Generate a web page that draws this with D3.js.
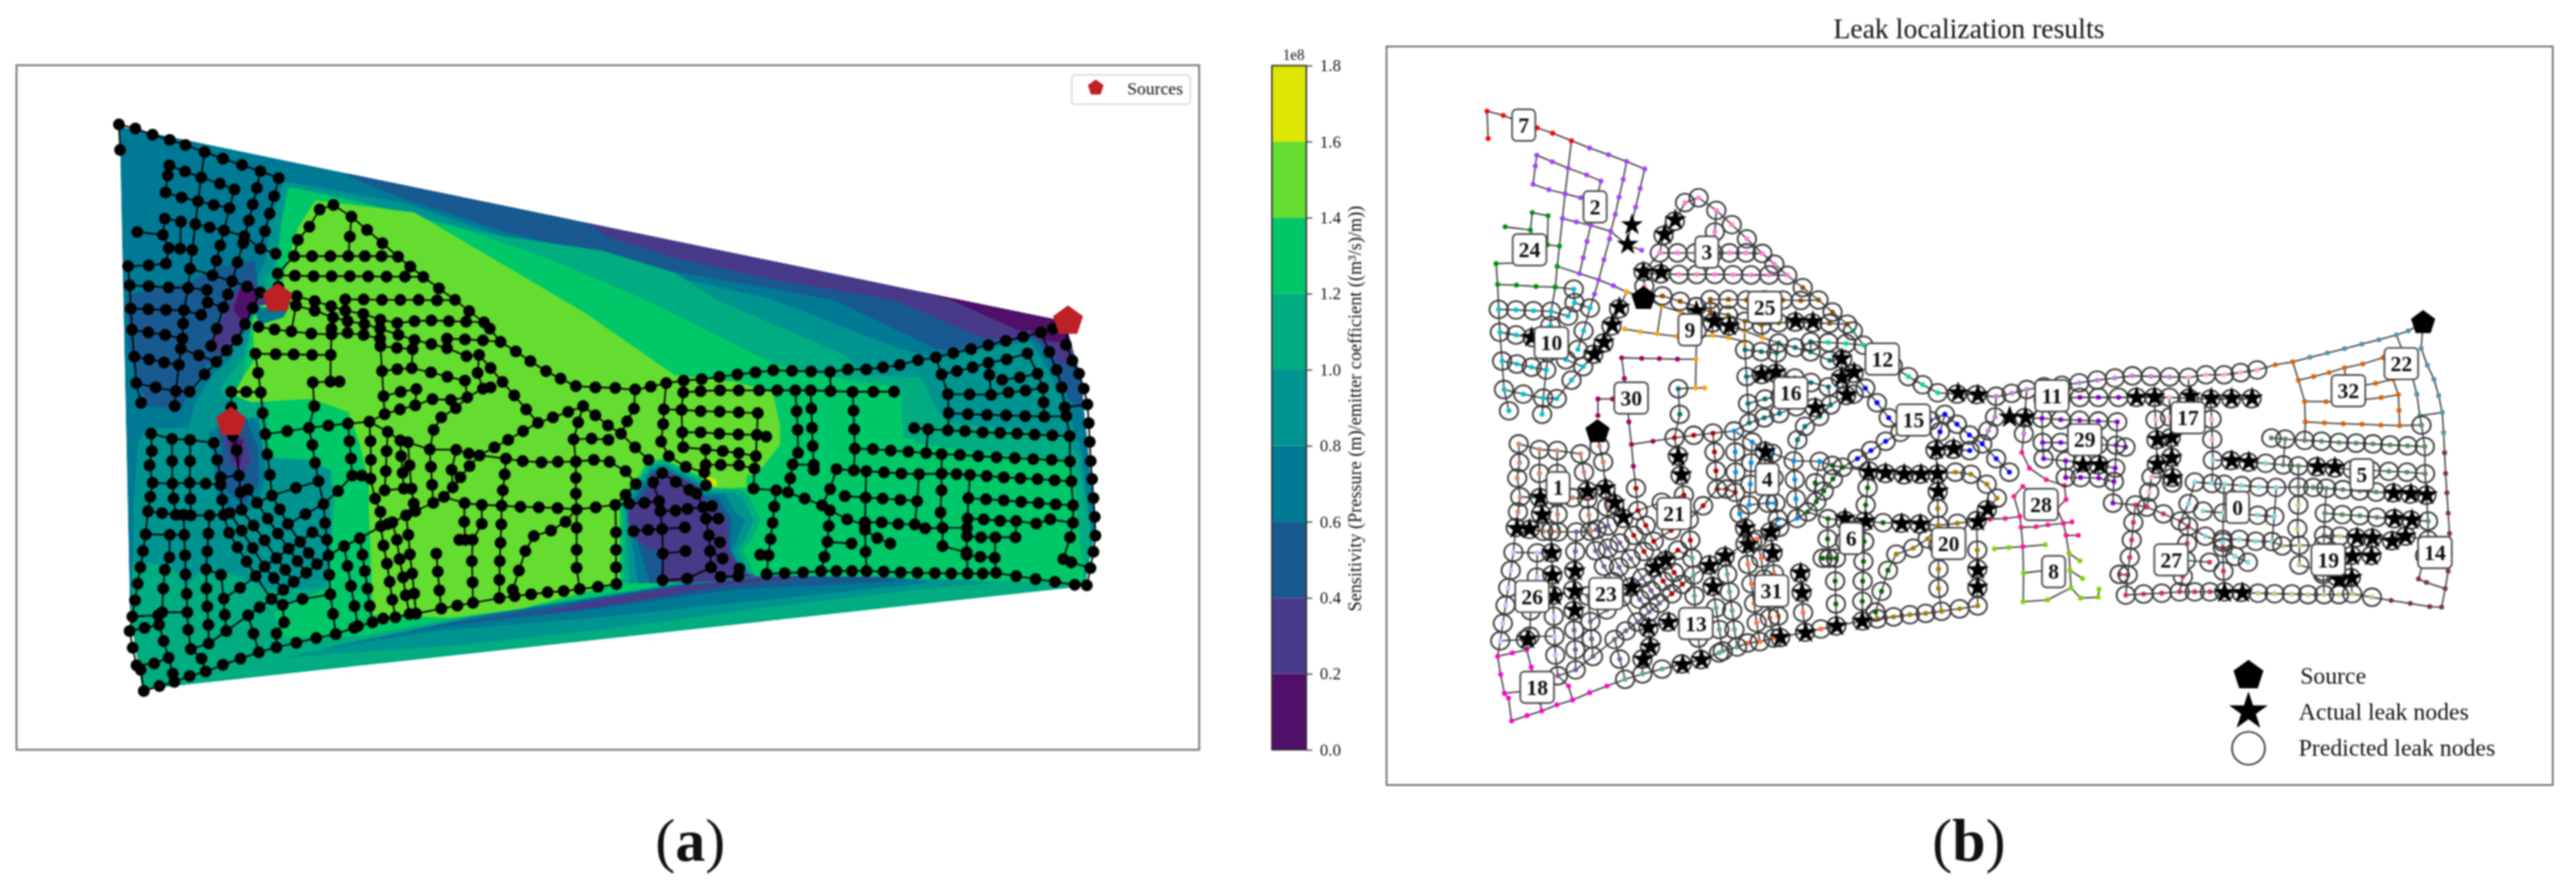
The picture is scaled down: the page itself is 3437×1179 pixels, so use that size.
<!DOCTYPE html>
<meta charset='utf-8'>
<html>
<head>
<style>
  body { margin: 0; background: #fff; }
  svg { display: block; filter: blur(0.8px); }
  text { font-family: 'Liberation Serif', serif; fill: #111; }
</style>
</head>
<body>
<script src='https://d3js.org/d3.v7.min.js'></script>
<script>

// colour bar
var binEdges = [0, 0.2, 0.4, 0.6, 0.8, 1.0, 1.2, 1.4, 1.6, 1.8];
var binColors = ['#500f68', '#483a88', '#185a90', '#007a94', '#009490', '#00ac80', '#00c768', '#64dc30', '#dce600'];

// node colour of every district in panel b
var districtColors = ['#80d8dc', '#c98a70', '#a040ff', '#ff80d0', '#0090f0', '#5a8a5a', '#006400', '#ff0000', '#80d000', '#ffa500',
  '#00c0d8', '#c080d8', '#00e090', '#60a880', '#803040', '#0000ff', '#007070', '#ffb0b0', '#ff00d0', '#c0c880',
  '#a08000', '#b00000', '#5090a8', '#7a5a90', '#009000', '#8a5000', '#c8c0ff', '#d03050', '#ff1493', '#8000d0',
  '#a00060', '#ff7040', '#e06000'];
var notPredicted = [7, 2, 24, 9, 30, 28, 8, 18, 22, 32, 14];

var pipesNW = [
  [7,115,108,158,124,203,149,248,170,289,190,339,218],
  [7,115,108,118,210],
  [2,339,218,387,245,437,270,485,295,533,323],
  [2,339,218,330,320,322,415,315,507],
  [24,315,507,307,610,301,685],
  [2,247,272,288,296,330,320,379,345,417,368,404,443],
  [2,247,272,243,312,237,380,279,400,322,415,363,430,404,443,390,532,380,592,370,653,360,712],
  [2,485,295,476,362,465,428,455,492,443,555,440,583,425,660,411,735,400,788],
  [2,533,323,521,395,509,465,497,535,485,605],
  [2,315,507,352,520,390,532,443,555,485,605,525,625],
  [24,163,538,230,550,235,485,277,497,275,605,307,610],
  [24,230,550,245,603,275,605],
  [24,245,603,238,665,193,672,139,675,143,752,193,755,245,760,296,762],
  [2,301,685,360,712,411,735,450,757],
  [9,450,757,485,780,532,800],
  [10,301,685,296,762,285,852,283,905,281,965,277,1005,272,1070,264,1175,261,1235],
  [10,143,752,146,845,149,930,155,1037,160,1143,173,1222],
  [10,146,845,192,847,238,850,285,852,330,870,347,820,345,770,296,762],
  [10,149,930,192,940,236,950,281,965],
  [10,155,1037,194,1048,233,1060,272,1070],
  [10,160,1143,211,1160,264,1175,300,1177,339,1108,370,1058,397,1012,424,970,445,907,465,843,485,780],
  [10,277,1005,324,1032,370,1058],
  [10,347,820,388,840,400,788],
  [10,388,840,371,925,356,994],
  [3,583,570,613,517,640,448,676,430,723,477,764,530,804,583,845,637,877,677,911,718],
  [3,723,477,719,557,715,635],
  [3,583,570,573,635,530,705],
  [3,573,635,620,635,668,635,715,635,758,635,802,635,845,637],
  [3,530,712,575,713,624,715,671,715,719,715,767,716,815,717,863,717,911,718],
  [3,530,712,532,758],
  [25,911,718,952,764,994,810,1031,855,1070,900],
  [25,707,808,755,808,803,810,851,810,899,810,947,812,994,810],
  [25,707,808,707,853],
  [9,578,833,627,853,675,880],
  [9,798,925,846,950],
  [25,532,800,580,795,627,815,670,835,707,853,754,866,799,889,843,903,888,895,932,892,978,895,1023,897,1070,900],
  [25,670,835,675,880,713,895,757,907,798,925],
  [25,707,853,713,895],
  [25,754,866,757,907],
  [25,799,889,798,925],
  [25,843,903,846,950],
  [9,480,918,522,928,566,936,618,945,671,948,713,942,755,950,798,965],
  [9,532,800,578,833,566,936],
  [25,675,880,671,925,671,948],
  [25,713,895,713,942],
  [25,757,907,755,950],
  [25,798,925,798,965],
  [9,671,948,669,1030,668,1137,692,1137],
  [21,612,1322,663,1313,714,1305],
  [4,714,1305,770,1297],
  [30,472,1025,525,1027,572,1028,620,1030,669,1030],
  [30,472,1025,479,1102,486,1180,491,1263,498,1347,555,1335,612,1322],
  [30,409,1178,448,1178,486,1180],
  [30,409,1178,409,1240],
  [16,798,965,799,995,803,1095,807,1195,810,1267,770,1297],
  [16,799,995,842,1002,883,1007,888,970,846,950],
  [16,888,970,932,987,973,1003,1024,1035,1057,1030],
  [16,803,1095,843,1087,881,1083,931,1100,974,1117,1020,1133,1026,1200],
  [16,1057,1030,1053,1102,1067,1165,1026,1200],
  [16,1067,1165,1087,1160],
  [16,883,1007,881,1083],
  [16,973,1003,973,965],
  [12,973,965,1020,968,1067,972,1113,978],
  [12,1070,900,1085,925,1113,978,1153,1016,1191,1055,1232,1095,1270,1125,1310,1155,1361,1160,1413,1162],
  [15,1057,1030,1087,1083,1118,1138,1149,1192,1180,1248,1211,1302,1172,1335,1133,1370,1097,1400],
  [15,1211,1302,1250,1280,1290,1258,1329,1235,1361,1272,1394,1312,1428,1345,1465,1400,1500,1450],
  [15,1329,1235,1316,1300,1304,1368,1351,1365,1395,1370],
  [11,1428,1345,1444,1296,1462,1245,1465,1168],
  [16,1026,1200,983,1210,935,1207,890,1232,850,1248,810,1267],
  [16,807,1195,852,1178,893,1167,890,1232],
  [16,1026,1200,996,1243,958,1280,938,1330],
  [16,622,1140,668,1137],
  [16,622,1140,626,1235,612,1322]
];

var pipesSW = [
  [13,481,1110,527,1090,579,1072,631,1053,682,1037,730,1012,740,1005,778,990],
  [31,778,990,806,975,838,970,875,957,892,955,958,935,1000,923,1041,912],
  [6,1041,912,1110,893],
  [20,1110,893,1150,885,1193,878,1236,870,1278,865,1320,857,1368,848,1416,837],
  [13,659,660,663,723,665,800,668,878,675,957,682,1037],
  [13,704,685,713,765,722,845,731,925,740,1005],
  [13,745,654,752,720,758,785,765,855,771,925,778,990],
  [13,663,723,704,685,745,654,800,606],
  [13,595,897,668,878],
  [4,938,220,928,298],
  [1,199,235,254,256,301,260,363,272],
  [1,199,235,201,305,195,362,203,432,197,488,191,546],
  [1,254,256,254,345,255,435,258,495,264,560],
  [1,301,260,301,345,300,432,302,497,303,562],
  [1,363,272,372,340,381,410,385,500,389,560],
  [1,203,432,255,435,300,432,342,435,381,440],
  [1,381,410,429,403],
  [1,408,190,413,243,423,302,429,403,433,470,452,458,476,512],
  [1,191,546,228,553,264,560,284,560,303,562],
  [23,303,562,352,562,389,560,405,553,436,540],
  [23,352,562,349,635,346,706,343,778,344,855,346,927,349,1000,350,1075,303,1097],
  [23,343,778,382,800,389,895,392,960,396,1025,350,1075],
  [21,476,512,504,575,531,635,559,695,582,745,605,792],
  [21,515,483,536,538,557,597,589,668,611,713,633,757],
  [23,436,540,467,603,496,662,527,733,550,780,572,828],
  [23,405,553,436,623,465,693,496,767,520,813,545,860],
  [23,389,560,403,632,425,690,449,747,473,805],
  [23,433,470,436,540],
  [23,473,805,496,767,527,733],
  [21,527,733,559,695,589,668,621,630,659,660],
  [21,663,723,633,757,605,792],
  [23,605,792,572,828,545,860,514,897,483,930,453,962,396,1025],
  [23,473,805,432,852,389,895],
  [23,473,805,514,897,543,920,595,897],
  [23,543,920,547,990,527,1035,527,1090],
  [23,453,962,467,1035,481,1110],
  [30,498,237,503,318],
  [21,503,318,510,400,515,483,476,512],
  [21,515,483,578,452,637,425,628,352,621,280,612,212],
  [21,714,195,718,265,722,335,725,403,688,465,650,517],
  [21,725,403,750,403,773,415],
  [21,637,425,650,517,654,593,659,660],
  [21,557,597,603,557,650,517],
  [26,191,546,185,638,178,705,171,770,164,835,157,902,150,967],
  [26,185,638,248,640,286,640],
  [26,248,640,247,730,235,780,231,855,228,950],
  [26,284,560,286,640,288,722,289,798,292,876,294,950,296,1020,303,1097],
  [26,150,967,218,962,228,950,294,950],
  [18,143,1025,182,1012,220,1000,218,962],
  [18,150,967,143,1025,151,1092,161,1162,172,1180,180,1265],
  [18,220,1000,232,1065,245,1132,256,1195,260,1228],
  [18,161,1162,207,1155,245,1132],
  [18,180,1265,221,1245,260,1228,300,1205,342,1187,387,1160,433,1135,481,1110],
  [18,342,1187,331,1135,303,1097],
  [4,770,187,773,265,774,340,773,415,785,495,799,548,800,606],
  [4,770,187,818,228,815,305,813,385,810,462,860,455,880,455],
  [4,818,228,851,262,853,325,857,392,860,455],
  [4,851,262,871,270,875,362,880,455,886,515,866,562],
  [4,871,270,927,298,931,368,934,440,937,512,890,545,866,562],
  [4,927,298,997,300],
  [6,997,300,1030,315,1058,322,1127,335],
  [6,937,512,965,488,988,450,1008,410,1032,365,1058,322,1097,290],
  [6,997,300,985,380,988,450],
  [6,965,488,1019,513,1064,520,1116,523,1165,528,1213,530,1262,533],
  [20,1262,533,1312,538,1362,530,1413,520],
  [6,1019,513,1018,588,1021,660],
  [6,1064,520,1064,596,1040,660,1038,745,1040,830,1041,912],
  [6,1005,660,1021,660,1040,660],
  [6,1127,335,1124,398,1119,462,1116,523,1115,598,1113,672,1111,745,1110,820,1110,893],
  [6,1127,335,1171,345,1220,350,1263,348,1310,347],
  [20,1310,347,1310,412,1310,475,1312,538,1312,612,1312,700,1312,772,1320,857],
  [20,1312,538,1283,588,1245,623,1200,645],
  [6,1200,645,1178,705,1161,783,1145,860,1150,885],
  [15,1304,258,1310,347],
  [20,1310,347,1357,340,1398,348,1440,385,1467,437,1440,480,1413,520,1415,630,1415,700,1415,770,1416,837],
  [31,800,606,807,683,816,755,823,828,830,900,838,970],
  [31,800,606,818,597,830,590,866,562],
  [31,830,590,842,660,849,737,858,810,865,882,875,957],
  [31,866,562,872,640,876,718,882,795,887,875,892,955],
  [31,945,715,949,787,953,862,958,935]
];

var pipesE = [
  [11,47,353,106,360,153,347,199,333,251,323,305,317,358,308,412,298,466,290,519,282,575,284,632,286],
  [17,632,286,689,288,742,278,797,278,847,270,897,260],
  [32,897,260,952,241,1005,230],
  [22,1005,230,1057,213,1110,197,1162,181,1214,164,1266,148,1319,130,1355,115,1400,85],
  [11,251,323,250,370],
  [29,250,370,302,365,360,362,416,362,477,362],
  [17,477,362,531,362,585,362,631,362,690,365,756,368,818,367,880,367],
  [17,689,288,690,365],
  [29,250,370,245,440,247,530,250,590],
  [11,199,333,192,438,190,497],
  [28,190,497,184,567,207,625,258,668,313,690,318,742],
  [29,192,438,245,440,302,445,359,447,416,450,473,453],
  [28,47,820,88,815,134,812,178,805,182,845,187,917],
  [28,187,693,160,730,178,805],
  [28,182,845,227,843,263,836,310,830,336,825],
  [28,187,693,228,728,268,760,290,775,310,830,318,875,355,875],
  [28,318,742,290,775],
  [8,101,925,145,920,187,917,255,910],
  [8,187,917,189,1015,188,1122,262,1115,333,1070],
  [8,189,1015,257,1005],
  [8,318,875,327,942,330,1005,333,1070,362,1108,415,1105,418,1075],
  [8,327,942,360,970],
  [8,330,1005,368,1035],
  [29,473,453,470,540,467,625,463,675,460,755],
  [29,247,530,302,530,358,535,415,538,470,540,498,547],
  [29,250,590,317,598,368,605,416,613,467,625],
  [29,317,598,317,660,362,660,417,662,463,675],
  [29,416,613,417,662],
  [27,460,755,528,762,563,770,613,795,665,822,688,842],
  [0,688,842,740,878,793,900],
  [27,528,762,522,827,517,892,511,957,505,1022,499,1097],
  [27,480,1020,505,1022],
  [17,585,362,589,445,592,520,593,612,577,658,570,714,563,770],
  [17,631,362,633,435,635,512,637,585,640,660,640,680],
  [17,577,658,640,660],
  [0,763,595,817,597,870,603,923,607],
  [5,923,607,976,613,1022,617,1077,620,1132,625,1186,630,1241,633,1296,637,1351,640,1406,646],
  [17,756,368,759,443,761,518,763,595],
  [0,708,677,760,682,797,685,850,690,902,695,955,697],
  [5,955,697,1022,695,1067,697,1107,700,1157,705,1208,710,1258,714,1309,717,1360,722,1410,726],
  [0,763,595,760,682],
  [0,708,677,689,757,665,822],
  [0,797,685,795,791,793,890],
  [0,733,785,795,791,846,795,899,800,949,805,955,697],
  [0,793,890,843,890,893,897,942,898,949,805],
  [19,942,898,973,914,1025,912,1098,912],
  [27,793,890,793,920,795,1008,798,1085],
  [0,793,920,830,953,869,975],
  [5,1022,617,1022,695],
  [19,1022,695,1022,762,1019,850,1025,912,1025,985,1097,1010],
  [5,1107,700,1102,793,1100,875],
  [19,1100,875,1098,945,1097,1010,1100,1095],
  [5,1102,793,1155,798,1208,802,1260,808,1312,813,1363,818,1415,822],
  [5,1395,465,1405,545,1406,646,1410,726,1415,822,1415,892,1406,950],
  [14,1406,950,1386,1037,1410,1050,1467,1073],
  [19,1100,875,1148,878,1197,884,1245,885,1305,895,1347,878,1415,892],
  [19,1245,885,1243,950,1183,950,1140,950,1098,945],
  [19,1183,950,1181,1032,1185,1092],
  [19,1097,1020,1138,1028,1181,1032],
  [27,688,842,685,905,681,968,672,1028,662,1085],
  [27,681,968,753,975],
  [27,499,1097,553,1093,608,1090,662,1085,708,1085,754,1085,798,1085,849,1087],
  [19,849,1087,900,1090,950,1092,1002,1093,1051,1095,1102,1095,1145,1095,1185,1092,1245,1105],
  [14,1245,1105,1303,1117,1361,1128,1420,1140,1456,1142],
  [22,1400,85,1394,180,1413,243,1433,295,1447,355,1458,418,1462,493],
  [14,1462,493,1465,568,1468,645,1472,717,1476,793,1480,868,1482,943,1476,1008,1467,1073,1456,1142],
  [22,1319,130,1344,208,1366,280,1381,350,1390,430,1458,418],
  [5,1390,430,1395,465],
  [5,940,513,982,517,1041,522,1092,525,1145,530,1197,532,1248,535,1300,539,1353,542,1405,545],
  [5,982,517,976,613],
  [32,1005,230,1022,298,1041,377,1043,453],
  [5,1043,453,1041,522],
  [32,1022,298,1068,285,1115,270,1162,252,1217,238,1279,214,1309,295,1325,352,1327,410,1329,467],
  [32,1041,377,1106,378,1170,380,1222,370,1273,363,1325,352],
  [32,1043,453,1101,457,1158,460,1215,462,1272,465,1329,467,1395,465],
  [32,1162,252,1165,300,1170,380],
  [32,1203,320,1256,310,1309,295]
];

// water sources: [crop, x, y]
var sources = [['e', 1400, 85], ['nw', 530, 805], ['sw', 408, 190]];

var leaksTop = [580,600, 568,678, 701,580, 671,638, 612,788, 662,790, 545,930, 525,1000, 502,1070, 475,1117, 300,1050,
  760,945, 810,985, 852,1005, 1037,985, 1085,987, 1165,1135, 1200,1190, 1165,1210, 1180,1280, 942,1197, 982,1190, 1092,1332, 1490,1272, 1545,1280];
var leaksSouth = [848,187, 605,208, 614,280, 352,345, 402,333, 428,392, 452,450, 220,370, 225,440, 155,495, 190,497, 252,592, 254,682, 260,765,
  317,665, 316,745, 316,822, 475,730, 570,620, 540,650, 692,643, 736,605, 702,728, 792,493, 800,560, 863,508, 868,592, 946,672, 950,752,
  578,870, 522,890, 527,968, 507,1018, 617,1040, 670,1020, 890,930, 960,912, 1047,885, 1118,865, 185,938, 1325,180, 1373,175, 1136,267, 1183,272,
  1235,277, 1282,277, 1328,275, 1330,345, 1070,455, 1128,465, 1228,475, 1280,477, 1440,467, 1468,417, 1440,660, 1440,730, 1530,50];
var leaksEast = [65,470, 110,470, 420,390, 470,388, 570,385, 628,393, 685,393, 742,393, 478,558, 518,550, 518,632, 478,657, 520,712,
  270,660, 317,660, 685,643, 733,648, 925,668, 973,670, 1137,773, 1185,775, 1230,780, 1140,875, 1188,880, 1035,950, 1078,953, 1133,965, 1170,945,
  1022,1025, 1075,1025, 1020,1112, 985,1120, 665,1172, 715,1172];

// district labels: [name, x, y]
var districtLabels = [['7',315,222],['2',400,367],['24',322,443],['3',533,447],['25',602,545],['9',513,585],['10',348,608],['12',742,637],
  ['30',443,706],['16',633,697],['15',779,745],['11',944,702],['17',1106,741],['22',1360,645],['32',1297,693],['29',983,780],['4',605,850],
  ['1',356,865],['21',494,911],['5',1313,842],['0',1165,900],['28',931,895],['6',705,955],['20',821,964],['27',1086,993],['14',1400,980],
  ['19',1273,993],['8',946,1014],['23',413,1053],['26',325,1058],['31',610,1048],['13',520,1106],['18',331,1219]];

// outline of the filled sensitivity map
var hull = [147,170,1310,578,1330,690,1348,1000,1345,1040,1335,1130,1322,1134,190,1345,175,1345,160,1190,148,230];

// filled contour bands, in painting order: [crop, bin, x, y, ...]
var bands = [
  ['all',2,400,200,431,277,497,322,624,392,800,465,1026,533,1153,637,1280,640,1400,620,1400,400],
  ['all',1,700,350,750,403,830,445,950,490,1100,533,1207,611,1260,620,1400,620,1400,400],
  ['all',0,980,440,1060,480,1170,533,1252,596,1300,600,1400,600,1400,400],
  ['e',3,990,215,1300,150,1385,300,1440,440,1475,600,1490,900,1480,1130,1400,1130,1400,500],
  ['all',4,349,285,497,330,620,400,790,470,952,533,1110,637,1149,653,1268,619,1293,690,1314,763,1330,847,1343,1003,1345,1130,1200,1150,300,1320,170,1345,162,1200,165,951,170,830,181,802,232,800,240,750,262,690,285,654,313,497,327,450,332,371],
  ['all',5,358,298,400,310,600,395,741,430,830,476,882,533,1040,648,1063,690,1133,695,1153,763,1166,789,1310,815,1326,857,1341,1003,1343,1124,1322,1150,170,1360,160,1300,163,1082,186,1082,215,1098,229,1134,247,1098,280,1103,304,1119,337,1140,407,1134,407,889,379,868,327,862,295,770,270,720,300,650,318,560,325,500,341,450,346,371],
  ['all',6,358,298,470,340,570,385,680,450,795,533,952,666,1022,695,1108,716,1112,820,1137,836,1231,857,1314,868,1322,899,1330,1056,1334,1124,1231,1121,943,1108,830,1126,556,1200,450,1235,346,1239,337,1187,403,1134,412,951,407,889,379,868,332,862,327,742,299,695,306,633,309,570,341,512,341,450,346,371,354,303],
  ['all',7,388,325,510,350,640,480,720,560,830,690,905,705,951,726,960,794,960,836,931,899,919,899,919,925,880,928,870,1000,762,1125,640,1180,556,1198,459,1192,454,977,454,915,443,836,429,768,384,740,309,747,287,732,299,695,313,659,311,580,318,554,346,507,353,455,367,382],
  ['e',6,60,830,70,780,120,700,140,650,190,635,300,705,330,750,440,755,460,770,495,880,470,960,440,1000,480,1100,500,1110,60,1140],
  ['e',5,68,830,80,790,125,705,145,660,190,645,300,715,325,755,420,760,445,780,480,880,455,960,425,1000,465,1100,70,1135],
  ['e',4,75,830,90,790,130,715,150,670,190,655,298,725,318,765,400,770,425,790,460,880,435,960,410,1000,450,1105,90,1135],
  ['e',3,80,830,100,790,135,725,155,680,190,665,295,735,310,775,375,775,410,860,435,880,410,960,395,1000,435,1108,115,1135],
  ['e',2,85,830,110,795,140,735,160,690,190,675,290,745,305,785,355,790,395,880,390,1000,425,1100,150,1135],
  ['e',1,90,820,130,790,160,730,150,700,190,680,300,750,310,800,350,830,380,880,385,1000,430,1090,470,1105,330,1130,180,1130,190,1000,160,1000,100,950,85,880],
  ['all',4,351,1281,560,1205,830,1128,943,1109,1180,1118,1230,1124,1149,1135,943,1176,738,1223,560,1255],
  ['all',3,390,1265,600,1190,830,1130,943,1110,1100,1113,1149,1124,943,1160,738,1197,539,1225],
  ['all',2,506,1223,830,1130,943,1111,1080,1112,1108,1121,902,1139,738,1178],
  ['all',1,657,1192,738,1160,830,1135,943,1112,1000,1112,900,1128,738,1175],
  ['e',2,1310,140,1400,200,1445,350,1455,440,1420,425,1380,340,1340,230],
  ['e',1,1310,130,1400,145,1430,280,1375,250,1330,190],
  ['e',0,1290,125,1360,80,1410,150,1400,175,1340,165],
  ['nw',2,135,790,300,740,370,680,470,650,480,770,450,930,390,1030,350,1060,300,1170,280,1240,190,1240,165,1130,140,1000],
  ['nw',1,420,780,450,720,495,790,500,830,470,830,430,950,380,1030,340,1000,380,900],
  ['nw',0,430,770,455,730,480,790,465,850,440,900,415,850],
  ['nw',3,470,840,560,840,545,880,480,910],
  ['sw',3,350,230,390,180,480,170,500,400,480,520,430,565,375,520,360,320],
  ['sw',2,375,225,405,200,450,180,480,300,480,440,440,520,395,460,370,400,385,300],
  ['sw',1,390,250,445,250,460,340,440,400,410,360],
  ['sw',0,405,260,440,260,430,370,415,330],
  ['e',8,320,705,350,720,350,745,330,745,320,730]
];

var cbTicks = [0, 0.2, 0.4, 0.6, 0.8, 1.0, 1.2, 1.4, 1.6, 1.8];

// the crops the numbers above were read from, mapped back to page pixels
function crop(x0, x1, y0, y1, w, h) {
  return {
    x: d3.scaleLinear().domain([0, w]).range([x0, x1]),
    y: d3.scaleLinear().domain([0, h]).range([y0, y1])
  };
}
var crops = {
  all: crop(0, 1700, 60, 1060, 1568, 1568),
  right: crop(1680, 3437, 0, 1179, 1568, 1568),
  nw: crop(100, 900, 130, 630, 1568, 1500),
  sw: crop(100, 900, 500, 980, 1568, 1440),
  e: crop(800, 1500, 400, 850, 1568, 1350),
  top: crop(1900, 2650, 100, 600, 1568, 1500),
  south: crop(1950, 2700, 540, 1040, 1568, 1500),
  east: crop(2650, 3400, 400, 900, 1568, 1500)
};

// same network in the right panel
var xB = d3.scaleLinear().domain([100, 1500]).range([1926.2, 3307]);
var yB = d3.scaleLinear().domain([100, 1000]).range([77.2, 1045.9]);

function toPoints(flat, c) {
  var out = [];
  for (var i = 0; i < flat.length; i += 2) out.push([c.x(flat[i]), c.y(flat[i + 1])]);
  return out;
}

var pipes = [];
[[pipesNW, 'nw'], [pipesSW, 'sw'], [pipesE, 'e']].forEach(function(g) {
  g[0].forEach(function(p) {
    pipes.push({ district: p[0], pts: toPoints(p.slice(1), crops[g[1]]) });
  });
});

// one node per junction, the first pipe that reaches it gives the district
var nodes = [];
pipes.forEach(function(p) {
  p.pts.forEach(function(pt) {
    var dup = nodes.some(function(n) { return Math.abs(n.x - pt[0]) < 3.2 && Math.abs(n.y - pt[1]) < 3.2; });
    if (!dup) nodes.push({ x: pt[0], y: pt[1], district: p.district });
  });
});

var srcPts = sources.map(function(s) { return [crops[s[0]].x(s[1]), crops[s[0]].y(s[2])]; });
nodes = nodes.filter(function(n) {
  return !srcPts.some(function(s) { return Math.abs(n.x - s[0]) < 6 && Math.abs(n.y - s[1]) < 6; });
});

var svg = d3.select('body').append('svg')
  .attr('width', 3437)
  .attr('height', 1179)
  .attr('viewBox', '0 0 3437 1179');

var pentagon = function(r) {
  var pts = d3.range(5).map(function(i) { return [i * 2 * Math.PI / 5, r]; });
  return d3.lineRadial().curve(d3.curveLinearClosed)(pts);
};

// ---------- panel a ----------
var panelA = svg.append('g');

panelA.append('rect').attr('x', 22).attr('y', 87).attr('width', 1578).attr('height', 913)
  .attr('fill', '#fff').attr('stroke', '#777').attr('stroke-width', 2.5);

var hullPath = d3.line()(toPoints(hull, crops.all)) + 'Z';
svg.append('clipPath').attr('id', 'hull').append('path').attr('d', hullPath);

var map = panelA.append('g').attr('clip-path', 'url(#hull)');
map.append('path').attr('d', hullPath).attr('fill', binColors[3]);
map.selectAll('path.band')
  .data(bands)
  .enter()
  .append('path')
  .attr('class', 'band')
  .attr('d', function(b) { return d3.line()(toPoints(b.slice(2), crops[b[0]])) + 'Z'; })
  .attr('fill', function(b) { return binColors[b[1]]; });

var line = d3.line();
panelA.selectAll('path.pipe')
  .data(pipes)
  .enter()
  .append('path')
  .attr('class', 'pipe')
  .attr('d', function(p) { return line(p.pts); })
  .attr('fill', 'none')
  .attr('stroke', '#000')
  .attr('stroke-width', 2.1);

panelA.selectAll('circle')
  .data(nodes)
  .enter()
  .append('circle')
  .attr('cx', function(d) { return d.x; })
  .attr('cy', function(d) { return d.y; })
  .attr('r', 7.9)
  .attr('fill', '#000');

panelA.selectAll('path.source')
  .data(srcPts)
  .enter()
  .append('path')
  .attr('class', 'source')
  .attr('d', pentagon(21))
  .attr('transform', function(d) { return 'translate(' + d[0] + ',' + d[1] + ')'; })
  .attr('fill', '#bd2126');

// legend of panel a
panelA.append('rect').attr('x', 1430).attr('y', 100).attr('width', 158).attr('height', 39).attr('rx', 4)
  .attr('fill', '#fff').attr('stroke', '#ccc').attr('stroke-width', 1.5);
panelA.append('path').attr('d', pentagon(11)).attr('transform', 'translate(1462,117)').attr('fill', '#bd2126');
panelA.append('text').attr('x', 1504).attr('y', 126).style('font-size', '23.5px').text('Sources');

panelA.append('text').attr('x', 921).attr('y', 1148).attr('text-anchor', 'middle').style('font-size', '80px')
  .html('(<tspan font-weight="bold">a</tspan>)');

// ---------- colour bar ----------
var cbY = d3.scaleLinear().domain([0, 1.8]).range([1000, 87.5]);
var cb = svg.append('g');
cb.selectAll('rect')
  .data(binColors)
  .enter()
  .append('rect')
  .attr('x', 1697)
  .attr('width', 46)
  .attr('y', function(d, i) { return cbY(binEdges[i + 1]); })
  .attr('height', function(d, i) { return cbY(binEdges[i]) - cbY(binEdges[i + 1]); })
  .attr('fill', function(d) { return d; });
cb.append('rect').attr('x', 1697).attr('y', 87.5).attr('width', 46).attr('height', 912.5)
  .attr('fill', 'none').attr('stroke', '#333').attr('stroke-width', 2);

var cbAxis = cb.append('g').attr('transform', 'translate(1743,0)')
  .call(d3.axisRight(cbY).tickValues(cbTicks).tickFormat(d3.format('.1f')).tickSize(8).tickPadding(10));
cbAxis.select('.domain').remove();
cbAxis.selectAll('line').attr('stroke', '#333').attr('stroke-width', 1.5);
cbAxis.selectAll('text').style('font-size', '22.5px').style('font-family', "'Liberation Serif', serif");

cb.append('text').attr('x', 1726).attr('y', 80).attr('text-anchor', 'middle').style('font-size', '20px').text('1e8');
cb.append('text')
  .attr('transform', 'translate(1816,545) rotate(-90)')
  .attr('text-anchor', 'middle')
  .style('font-size', '24.3px')
  .text('Sensitivity (Pressure (m)/emitter coefficient ((m³/s)/m))');

// ---------- panel b ----------
var panelB = svg.append('g');
panelB.append('rect').attr('x', 1850).attr('y', 62).attr('width', 1556).attr('height', 985)
  .attr('fill', '#fff').attr('stroke', '#666').attr('stroke-width', 2.2);
panelB.append('text').attr('x', 2627).attr('y', 51).attr('text-anchor', 'middle').style('font-size', '37px')
  .text('Leak localization results');

var lineB = d3.line().x(function(d) { return xB(d[0]); }).y(function(d) { return yB(d[1]); });
panelB.selectAll('path.pipe')
  .data(pipes)
  .enter()
  .append('path')
  .attr('class', 'pipe')
  .attr('d', function(p) { return lineB(p.pts); })
  .attr('fill', 'none')
  .attr('stroke', '#333')
  .attr('stroke-width', 1.8);

panelB.selectAll('circle.node')
  .data(nodes)
  .enter()
  .append('circle')
  .attr('class', 'node')
  .attr('cx', function(d) { return xB(d.x); })
  .attr('cy', function(d) { return yB(d.y); })
  .attr('r', 3.3)
  .attr('fill', function(d) { return districtColors[d.district]; });

panelB.selectAll('ellipse.pred')
  .data(nodes.filter(function(n) { return notPredicted.indexOf(n.district) < 0; }))
  .enter()
  .append('ellipse')
  .attr('class', 'pred')
  .attr('cx', function(d) { return xB(d.x); })
  .attr('cy', function(d) { return yB(d.y); })
  .attr('rx', 12.3)
  .attr('ry', 11.8)
  .attr('fill', 'none')
  .attr('stroke', '#333')
  .attr('stroke-width', 2.3);

var leakPts = toPoints(leaksTop, crops.top).concat(toPoints(leaksSouth, crops.south), toPoints(leaksEast, crops.east));
var star = d3.symbol().type(d3.symbolStar);
panelB.selectAll('path.leak')
  .data(leakPts)
  .enter()
  .append('path')
  .attr('class', 'leak')
  .attr('d', star.size(270)())
  .attr('transform', function(d) { return 'translate(' + d[0] + ',' + d[1] + ')'; })
  .attr('fill', '#000');

panelB.selectAll('path.source')
  .data(srcPts)
  .enter()
  .append('path')
  .attr('class', 'source')
  .attr('d', pentagon(17))
  .attr('transform', function(d) { return 'translate(' + xB(d[0]) + ',' + yB(d[1]) + ')'; })
  .attr('fill', '#000');

var labelG = panelB.selectAll('g.dist')
  .data(districtLabels)
  .enter()
  .append('g')
  .attr('class', 'dist')
  .attr('transform', function(d) { return 'translate(' + crops.right.x(d[1]) + ',' + crops.right.y(d[2]) + ')'; });
labelG.append('rect')
  .attr('x', function(d) { return d[0].length > 1 ? -22.5 : -15.5; })
  .attr('width', function(d) { return d[0].length > 1 ? 45 : 31; })
  .attr('y', -21)
  .attr('height', 42)
  .attr('rx', 6)
  .attr('fill', '#fff')
  .attr('stroke', '#444')
  .attr('stroke-width', 2.2);
labelG.append('text')
  .attr('text-anchor', 'middle')
  .attr('y', 10)
  .attr('font-weight', 'bold')
  .style('font-size', '29px')
  .text(function(d) { return d[0]; });

// legend of panel b
panelB.append('path').attr('d', pentagon(21)).attr('transform', 'translate(3000,901)').attr('fill', '#000');
panelB.append('path').attr('d', star.size(820)()).attr('transform', 'translate(3000,949)').attr('fill', '#000');
panelB.append('ellipse').attr('cx', 3000).attr('cy', 998).attr('rx', 22).attr('ry', 22)
  .attr('fill', 'none').attr('stroke', '#333').attr('stroke-width', 2.2);
panelB.append('text').attr('x', 3069).attr('y', 912).style('font-size', '31.7px').text('Source');
panelB.append('text').attr('x', 3067).attr('y', 960).style('font-size', '31.7px').text('Actual leak nodes');
panelB.append('text').attr('x', 3067).attr('y', 1008).style('font-size', '31.7px').text('Predicted leak nodes');

panelB.append('text').attr('x', 2627).attr('y', 1148).attr('text-anchor', 'middle').style('font-size', '80px')
  .html('(<tspan font-weight="bold">b</tspan>)');

</script>
</body>
</html>
